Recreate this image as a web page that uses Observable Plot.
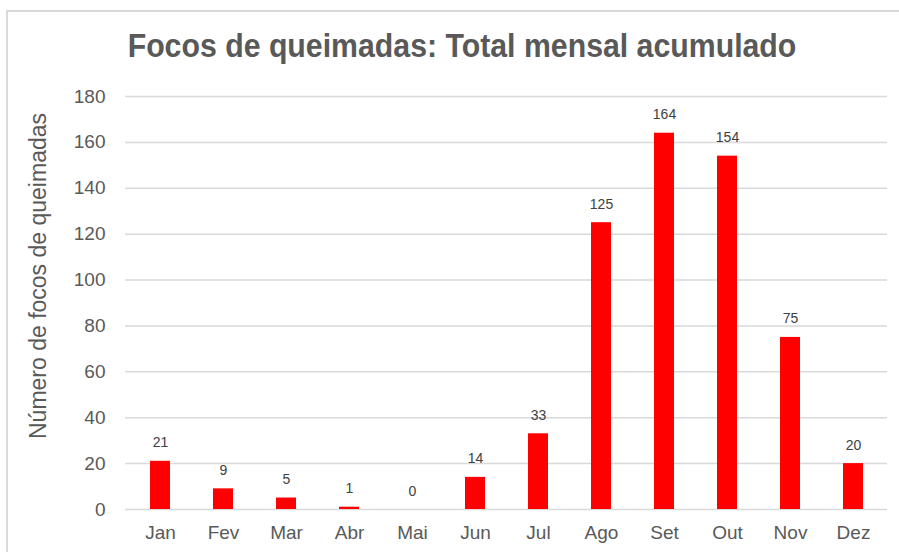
<!DOCTYPE html>
<html>
<head>
<meta charset="utf-8">
<script src="https://cdn.jsdelivr.net/npm/d3@7"></script>
<script src="https://cdn.jsdelivr.net/npm/@observablehq/plot@0.6"></script>
<style>
  body { margin: 0; background: #fff; }
  #wrap { position: relative; width: 899px; height: 552px; overflow: hidden; background: #fff; }
  #border { position: absolute; left: 6px; top: 10px; width: 1000px; height: 1000px; border: 2px solid #d9d9d9; box-sizing: border-box; }
  #title { position: absolute; left: 462px; top: 29px; transform: translateX(-50%) scaleX(0.917); white-space: nowrap;
           font-family: "Liberation Sans", Arial, sans-serif; font-weight: bold; font-size: 33px; line-height: 1; color: #595959; }
  #chart { position: absolute; left: 0; top: 80px; }
</style>
</head>
<body>
<div id="wrap">
  <div id="border"></div>
  <div id="title">Focos de queimadas: Total mensal acumulado</div>
  <div id="chart"></div>
</div>
<script>
const months = ["Jan", "Fev", "Mar", "Abr", "Mai", "Jun", "Jul", "Ago", "Set", "Out", "Nov", "Dez"];
const focos = [21, 9, 5, 1, 0, 14, 33, 125, 164, 154, 75, 20];
const yTicks = [0, 20, 40, 60, 80, 100, 120, 140, 160, 180];
const yTitle = "Número de focos de queimadas";

const data = months.map((m, i) => ({month: m, value: focos[i]}));

const chart = Plot.plot({
  width: 899,
  height: 472,
  marginLeft: 125,
  marginRight: 12,
  marginTop: 16,
  marginBottom: 43,
  style: {fontFamily: "'Liberation Sans', Arial, sans-serif", background: "transparent", overflow: "visible"},
  x: {domain: months, paddingInner: 0.684, paddingOuter: 0.342, label: null},
  y: {domain: [0, 180], label: null},
  marks: [
    Plot.ruleY(yTicks, {stroke: "#d9d9d9", strokeWidth: 1.5}),
    Plot.barY(data, {x: "month", y: "value", fill: "#ff0000"}),
    Plot.text(data, {x: "month", y: "value", text: d => String(d.value), dy: -14, lineAnchor: "bottom",
                     fontSize: 14, fill: "#404040"}),
    Plot.axisY(yTicks, {tickSize: 0, tickPadding: 20, fontSize: 19, color: "#595959", label: null}),
    Plot.axisX({tickSize: 0, tickPadding: 16, fontSize: 19, color: "#595959", label: null}),
    Plot.text([yTitle], {frameAnchor: "left", rotate: -90, dx: -87, dy: -27, fontSize: 23, fill: "#595959",
                         textAnchor: "middle", lineAnchor: "middle"})
  ]
});
document.getElementById("chart").appendChild(chart);
</script>
</body>
</html>
